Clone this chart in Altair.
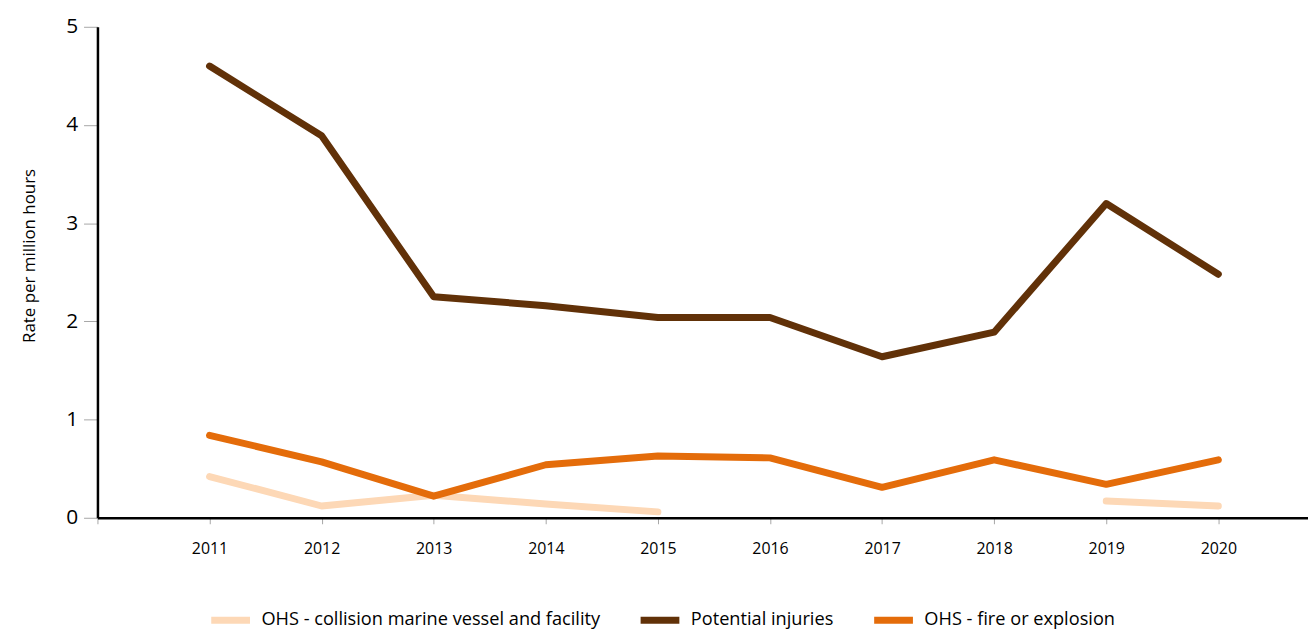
import altair as alt
import pandas as pd

years = [2011, 2012, 2013, 2014, 2015, 2016, 2017, 2018, 2019, 2020]
collision = [0.42, 0.12, 0.23, 0.14, 0.06, None, None, None, 0.17, 0.12]
potential = [4.60, 3.89, 2.25, 2.16, 2.04, 2.04, 1.64, 1.89, 3.20, 2.48]
fire = [0.84, 0.57, 0.22, 0.54, 0.63, 0.61, 0.31, 0.59, 0.34, 0.59]

series_names = ["OHS - collision marine vessel and facility", "Potential injuries", "OHS - fire or explosion"]
series_colors = ["#FDD8B6", "#613108", "#E46C0A"]
x_ticks = [2010] + years

rows = []
for name, vals in zip(series_names, [collision, potential, fire]):
    seg = 0
    for yr, v in zip(years, vals):
        if v is None:
            seg += 1
            continue
        rows.append({"year": yr, "value": v, "series": name, "seg": f"{name}-{seg}"})
df = pd.DataFrame(rows)

FONT = "Open Sans"

chart = alt.Chart(df).mark_line(strokeWidth=7, strokeCap="round", strokeJoin="round").encode(
    x=alt.X("year:Q",
            scale=alt.Scale(domain=[2010, 2020.8], nice=False, zero=False),
            axis=alt.Axis(values=x_ticks, format="d", title=None, grid=False,
                          labelExpr="datum.value == 2010 ? '' : datum.label",
                          domainColor="#000000", domainWidth=2.5,
                          tickColor="#A6A6A6", tickSize=6, tickWidth=1,
                          labelFont=FONT, labelFontSize=16, labelColor="#000000",
                          labelPadding=17, labelFlush=False)),
    y=alt.Y("value:Q",
            scale=alt.Scale(domain=[0, 5], nice=False),
            axis=alt.Axis(values=[0, 1, 2, 3, 4, 5], title="Rate per million hours", grid=False,
                          domainColor="#000000", domainWidth=2.5,
                          tickColor="#A6A6A6", tickSize=14, tickWidth=1,
                          labelFont=FONT, labelFontSize=21, labelColor="#000000",
                          labelPadding=6,
                          titleFont=FONT, titleFontSize=17, titleFontWeight="normal",
                          titleColor="#000000", titleAngle=270,
                          titleX=-68, titleY=230, titleAlign="center", titleBaseline="middle")),
    color=alt.Color("series:N",
                    scale=alt.Scale(domain=series_names, range=series_colors),
                    legend=alt.Legend(title=None, orient="none", direction="horizontal",
                                      legendX=111, legendY=574,
                                      symbolType="stroke", symbolStrokeWidth=7, symbolSize=1521,
                                      labelFont=FONT, labelFontSize=18.3, labelColor="#000000",
                                      labelLimit=0,
                                      labelOffset=8, columnPadding=26, padding=0)),
    detail="seg:N",
    order=alt.value(0),
).properties(
    width=1218, height=494,
    autosize=alt.AutoSizeParams(type="none"),
    padding={"left": 90, "top": 17, "right": 0, "bottom": 111},
).configure(background="#FFFFFF").configure_view(stroke=None)

chart.save("out.html", embed_options={"renderer": "svg", "actions": False})
